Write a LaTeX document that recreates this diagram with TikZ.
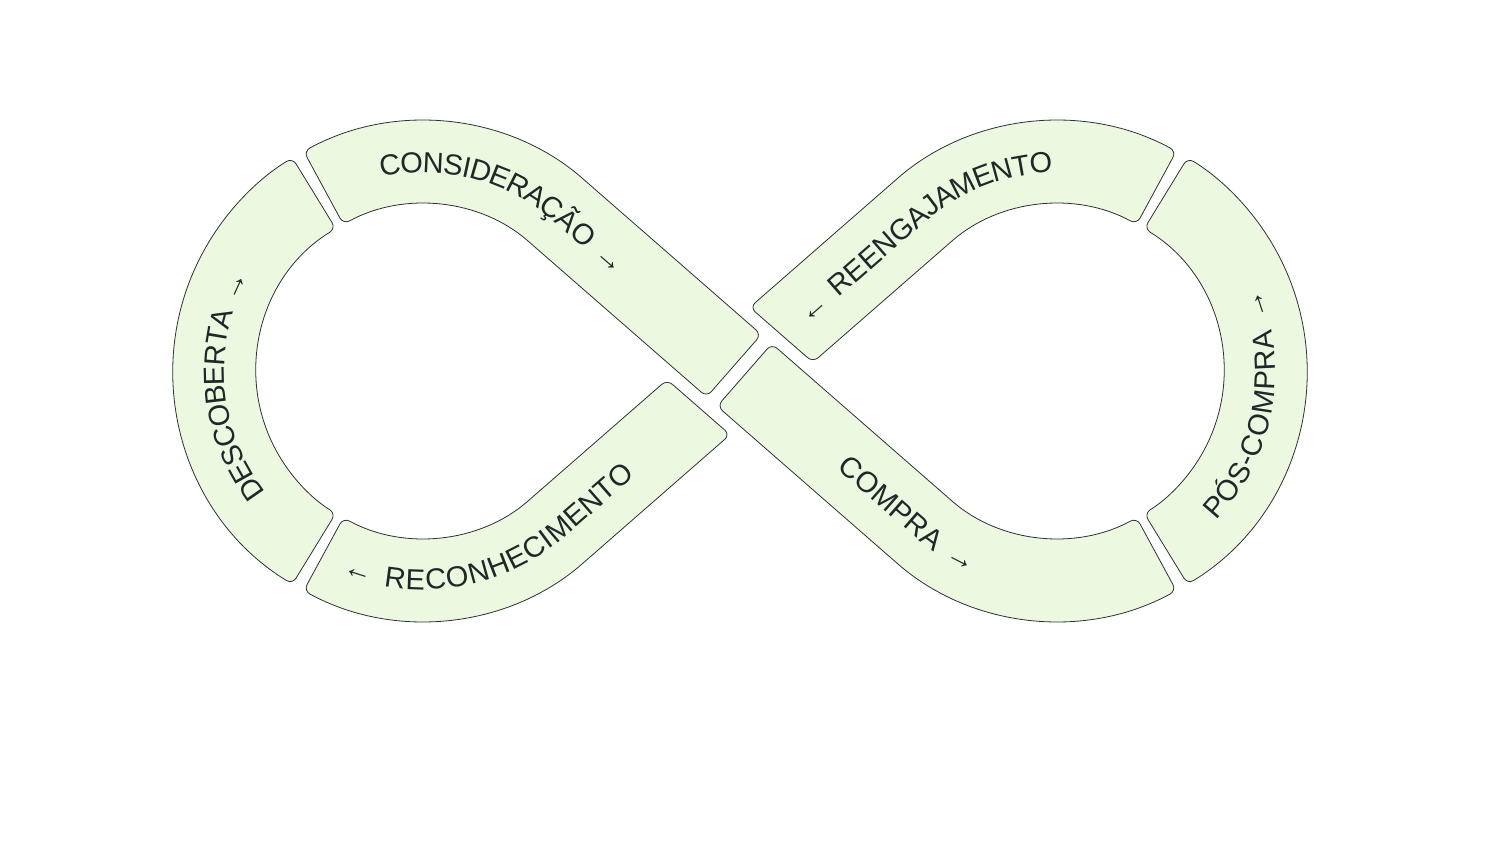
\documentclass[tikz,border=0pt]{standalone}
\usepackage{fontspec}
\usetikzlibrary{calc,decorations.text}
\newfontfamily\lbl[LetterSpace=12]{Liberation Sans}
\definecolor{segfill}{RGB}{237,248,224}
\definecolor{segline}{RGB}{45,50,50}
\definecolor{ink}{RGB}{30,40,40}
\newcommand{\lf}{\fontsize{29}{29}\lbl\color{ink}}
\tikzset{
  seg/.style={fill=segfill,draw=segline,line width=0.8pt,rounded corners=7pt},
  lab/.style={decorate}
}
\begin{document}
\begin{tikzpicture}[x=1pt,y=1pt]
\useasboundingbox (-740,-473) rectangle (760,371);
\coordinate (L) at (-317,0);
\coordinate (R) at (317,0);
% segments
\draw[seg] ($(L)+(238.5:250pt)$) arc[start angle=238.5,end angle=121.5,radius=250pt] -- ($(L)+(121.5:167pt)$) arc[start angle=121.5,end angle=238.5,radius=167pt] -- cycle;
\draw[seg] ($(L)+(118.5:250pt)$) arc[start angle=118.5,end angle=48.9,radius=250pt] -- (21.3,36.5) -- (-33.3,-25.9) -- ($(L)+(48.9:167pt)$) arc[start angle=48.9,end angle=118.5,radius=167pt] -- cycle;
\draw[seg] ($(L)+(241.5:250pt)$) arc[start angle=241.5,end angle=311.1,radius=250pt] -- (-9.9,-63.7) -- (-72.9,-8.7) -- ($(L)+(311.1:167pt)$) arc[start angle=311.1,end angle=241.5,radius=167pt] -- cycle;
\draw[seg] (31.8,27.3) -- ($(R)+(228.9:167pt)$) arc[start angle=228.9,end angle=298.5,radius=167pt] -- ($(R)+(298.5:250pt)$) arc[start angle=298.5,end angle=228.9,radius=250pt] -- (-22.8,-35.2) -- cycle;
\draw[seg] (9.9,63.7) -- ($(R)+(131.1:250pt)$) arc[start angle=131.1,end angle=61.5,radius=250pt] -- ($(R)+(61.5:167pt)$) arc[start angle=61.5,end angle=131.1,radius=167pt] -- (72.9,8.7) -- cycle;
\draw[seg] ($(R)+(-58.5:250pt)$) arc[start angle=-58.5,end angle=58.5,radius=250pt] -- ($(R)+(58.5:167pt)$) arc[start angle=58.5,end angle=-58.5,radius=167pt] -- cycle;
% labels
\path[lab,decoration={text along path,raise=-10pt,text align={left indent=76pt},text={|\lf|DESCOBERTA →}}] ($(L)+(238.5:208.5pt)$) arc[start angle=238.5,end angle=121.5,radius=208.5pt];
\path[lab,decoration={text along path,raise=-10pt,text align={left indent=60pt},text={|\lf|CONSIDERAÇÃO →}}] ($(L)+(118.5:208.5pt)$) arc[start angle=118.5,end angle=48.9,radius=208.5pt] -- (-6,5.3);
\path[lab,decoration={text along path,raise=-10pt,text align={left indent=25pt},text={|\lf|← RECONHECIMENTO}}] ($(L)+(241.5:208.5pt)$) arc[start angle=241.5,end angle=311.1,radius=208.5pt] -- (-41.4,-36.2);
\path[lab,decoration={text along path,raise=-10pt,text align={left indent=131pt},text={|\lf|COMPRA →}}] (4.5,-3.9) -- ($(R)+(228.9:208.5pt)$) arc[start angle=228.9,end angle=298.5,radius=208.5pt];
\path[lab,decoration={text along path,raise=-10pt,text align={left indent=27pt},text={|\lf|← REENGAJAMENTO}}] (41.4,36.2) -- ($(R)+(131.1:208.5pt)$) arc[start angle=131.1,end angle=61.5,radius=208.5pt];
\path[lab,decoration={text along path,raise=-10pt,text align={left indent=55pt},text={|\lf|PÓS-COMPRA →}}] ($(R)+(-58.5:208.5pt)$) arc[start angle=-58.5,end angle=58.5,radius=208.5pt];
\end{tikzpicture}
\end{document}
